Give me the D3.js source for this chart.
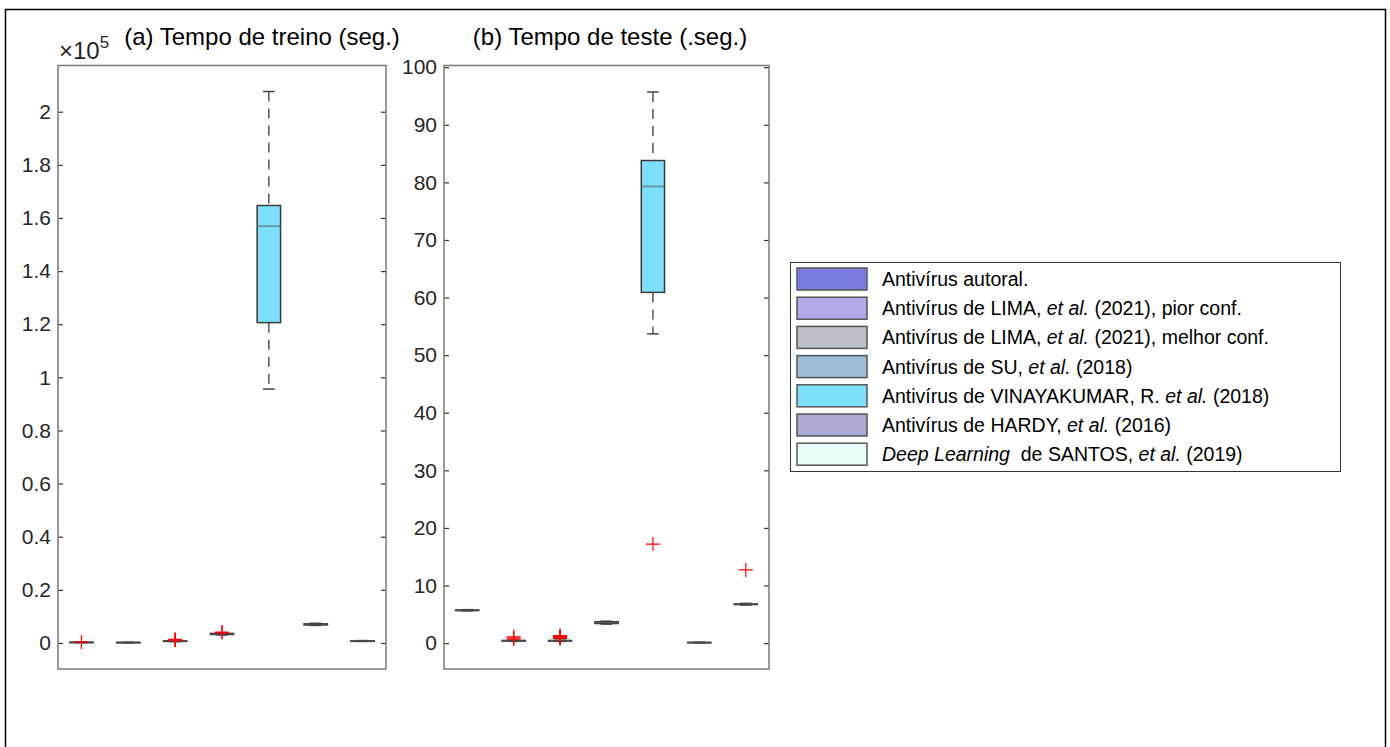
<!DOCTYPE html>
<html>
<head>
<meta charset="utf-8">
<script src="https://cdn.jsdelivr.net/npm/d3@7"></script>
<style>
  body { margin: 0; background: #fff; }
  svg { font-family: "Liberation Sans", Arial, sans-serif; }
</style>
</head>
<body>
<script>
// legend labels, one per box
var categories = [
  [{t: 'Antivírus autoral.'}],
  [{t: 'Antivírus de LIMA, '}, {t: 'et al.', i: 1}, {t: ' (2021), pior conf.'}],
  [{t: 'Antivírus de LIMA, '}, {t: 'et al.', i: 1}, {t: ' (2021), melhor conf.'}],
  [{t: 'Antivírus de SU, '}, {t: 'et al.', i: 1}, {t: ' (2018)'}],
  [{t: 'Antivírus de VINAYAKUMAR, R. '}, {t: 'et al.', i: 1}, {t: ' (2018)'}],
  [{t: 'Antivírus de HARDY, '}, {t: 'et al.', i: 1}, {t: ' (2016)'}],
  [{t: 'Deep Learning', i: 1}, {t: '  de SANTOS, '}, {t: 'et al.', i: 1}, {t: ' (2019)'}]
];
var boxColors = ['#7b7be0', '#b1a9e8', '#b9bfc5', '#9ebdd7', '#7ce0fb', '#aaa9d4', '#e9fcfc'];

// [lower whisker, Q1, median, Q3, upper whisker] in seconds
var trainStats = [
  [150, 200, 250, 300, 380],
  [100, 150, 180, 220, 260],
  [500, 600, 700, 800, 900],
  [3000, 3200, 3400, 3600, 3800],
  [95600, 120600, 156900, 164700, 207600],
  [6600, 6800, 7000, 7200, 7400],
  [600, 700, 750, 800, 900]
];
var trainOutliers = [[400], [], [1000, 1200, 1400], [3900, 4100], [], [], []];

var testStats = [
  [5.6, 5.65, 5.7, 5.75, 5.8],
  [0.3, 0.35, 0.4, 0.45, 0.5],
  [0.3, 0.35, 0.4, 0.45, 0.5],
  [3.3, 3.4, 3.55, 3.7, 3.8],
  [53.7, 60.9, 79.3, 83.8, 95.7],
  [0.05, 0.08, 0.1, 0.12, 0.15],
  [6.6, 6.7, 6.75, 6.8, 6.9]
];
var testOutliers = [[], [0.7, 0.9, 1.1], [0.8, 0.9, 1.0, 1.1, 1.2, 1.3], [], [17.2], [], [12.7]];

var trainTicks = [0, 20000, 40000, 60000, 80000, 100000, 120000, 140000, 160000, 180000, 200000];
var testTicks = [0, 10, 20, 30, 40, 50, 60, 70, 80, 90, 100];

var svg = d3.select('body').append('svg').attr('width', 1390).attr('height', 747);

svg.append('rect').attr('x', 5.5).attr('y', 9.5).attr('width', 1380).attr('height', 760)
  .attr('fill', 'none').attr('stroke', '#000').attr('stroke-width', 1.5);

function drawPanel(opt) {
  var x = d3.scaleBand().domain(d3.range(7)).range([opt.left, opt.right]);
  var y = d3.scaleLinear().domain(opt.domain).range([669, 65.5]);
  var g = svg.append('g');
  var bw = x.bandwidth() * 0.5;

  var yl = d3.axisLeft(y).tickValues(opt.ticks).tickSize(-5).tickPadding(7).tickFormat(opt.fmt);
  var ya = g.append('g').attr('transform', 'translate(' + opt.left + ',0)').call(yl);
  var yr = g.append('g').attr('transform', 'translate(' + opt.right + ',0)')
    .call(d3.axisRight(y).tickValues(opt.ticks).tickSize(-5).tickFormat(''));
  [ya, yr].forEach(function (a) {
    a.select('.domain').remove();
    a.selectAll('line').attr('stroke', '#333').attr('stroke-width', 1.2);
  });
  ya.selectAll('text').attr('fill', '#262626').style('font-size', '21px')
    .style('font-family', '"Liberation Sans", Arial, sans-serif');

  var boxes = g.selectAll('g.box').data(opt.stats).enter().append('g').attr('class', 'box');
  boxes.each(function (s, i) {
    var b = d3.select(this);
    var cx = x(i) + x.bandwidth() / 2;
    // whiskers
    b.append('line').attr('x1', cx).attr('x2', cx).attr('y1', y(s[4])).attr('y2', y(s[3]))
      .attr('stroke', '#555').attr('stroke-width', 1.5).attr('stroke-dasharray', '10,7');
    b.append('line').attr('x1', cx).attr('x2', cx).attr('y1', y(s[1])).attr('y2', y(s[0]))
      .attr('stroke', '#555').attr('stroke-width', 1.5).attr('stroke-dasharray', '10,7');
    [s[0], s[4]].forEach(function (v) {
      b.append('line').attr('x1', cx - bw / 4).attr('x2', cx + bw / 4).attr('y1', y(v)).attr('y2', y(v))
        .attr('stroke', '#444').attr('stroke-width', 1.5);
    });
    b.append('rect').attr('x', cx - bw / 2).attr('width', bw)
      .attr('y', y(s[3])).attr('height', Math.max(0.5, y(s[1]) - y(s[3])))
      .attr('fill', boxColors[i]).attr('stroke', '#3a3a3a').attr('stroke-width', 1.5);
    b.append('line').attr('x1', cx - bw / 2).attr('x2', cx + bw / 2).attr('y1', y(s[2])).attr('y2', y(s[2]))
      .attr('stroke', '#555').attr('stroke-opacity', 0.5).attr('stroke-width', 2);
    opt.outliers[i].forEach(function (v) {
      b.append('path').attr('d', 'M' + (cx - 7) + ',' + y(v) + 'h14M' + cx + ',' + (y(v) - 7) + 'v14')
        .attr('stroke', '#ff0000').attr('stroke-width', 1.2).attr('fill', 'none');
    });
  });

  g.append('rect').attr('x', opt.left).attr('y', 65.5).attr('width', opt.right - opt.left).attr('height', 669 - 65.5)
    .attr('fill', 'none').attr('stroke', '#7a7a7a').attr('stroke-width', 1.5);

  svg.append('text').attr('x', opt.titleX).attr('y', 45)
    .attr('text-anchor', 'middle').style('font-size', '24px').attr('fill', '#000').text(opt.title);
}

drawPanel({
  left: 58, right: 386, domain: [-9800, 217400], ticks: trainTicks, stats: trainStats,
  outliers: trainOutliers, fmt: function (d) { return String(+(d / 1e5).toFixed(1)); },
  title: '(a) Tempo de treino (seg.)', titleX: 262
});
drawPanel({
  left: 444, right: 769, domain: [-4.5, 100.3], ticks: testTicks, stats: testStats,
  outliers: testOutliers, fmt: function (d) { return String(d); },
  title: '(b) Tempo de teste (.seg.)', titleX: 610
});

// exponent label
var ex = svg.append('text').attr('x', 59).attr('y', 59).attr('fill', '#262626').style('font-size', '24px');
ex.append('tspan').text('\u00d710');
ex.append('tspan').attr('dy', -11).style('font-size', '17px').text('5');

// legend
var leg = svg.append('g');
leg.append('rect').attr('x', 790.5).attr('y', 262.5).attr('width', 550).attr('height', 209)
  .attr('fill', '#fff').attr('stroke', '#333').attr('stroke-width', 1);
var rows = leg.selectAll('g.row').data(categories).enter().append('g').attr('class', 'row')
  .attr('transform', function (d, i) { return 'translate(0,' + (268 + i * 29.2) + ')'; });
rows.append('rect').attr('x', 797).attr('y', 0).attr('width', 70).attr('height', 22)
  .attr('fill', function (d, i) { return boxColors[i]; }).attr('stroke', '#555').attr('stroke-width', 1.5);
rows.append('text').attr('x', 882).attr('y', 18).style('font-size', '19.5px').attr('fill', '#000')
  .each(function (d) {
    var t = d3.select(this);
    d.forEach(function (p) {
      t.append('tspan').style('font-style', p.i ? 'italic' : 'normal').attr('xml:space', 'preserve').text(p.t);
    });
  });
</script>
</body>
</html>
